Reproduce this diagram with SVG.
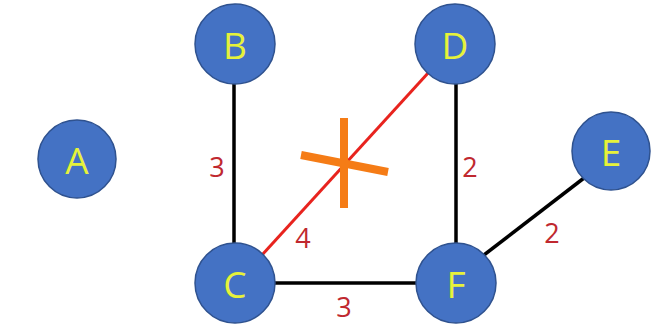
<svg xmlns="http://www.w3.org/2000/svg" width="666" height="325" viewBox="0 0 666 325">
<style>
.node circle{fill:#4472c4;stroke:#2f528f;stroke-width:1.5}
.node text{fill:#e6f23a;font-family:"Open Sans","Liberation Sans",sans-serif;font-size:37px;font-weight:500;text-anchor:middle;dominant-baseline:central}
.e{stroke:#000;stroke-width:3.5;fill:none}
.lbl{fill:#c0282f;font-family:"Open Sans","Liberation Sans",sans-serif;font-size:27px;text-anchor:middle;dominant-baseline:central}
</style>
<rect width="666" height="325" fill="#fff"/>
<g id="connectors">
<line class="e" x1="234" y1="84" x2="234" y2="243"/>
<line class="e" x1="274" y1="283" x2="416" y2="283"/>
<line class="e" x1="456" y1="84" x2="456" y2="243"/>
<line class="e" x1="484" y1="255" x2="584" y2="178"/>
<line x1="262" y1="255" x2="429" y2="72" stroke="#e8231e" stroke-width="3"/>
<g id="cross" stroke="#f57c16" stroke-width="8">
<line x1="344" y1="118" x2="344" y2="208"/>
<line x1="301" y1="155" x2="388" y2="172"/>
</g>
<text class="lbl" x="217" y="166">3</text>
<text class="lbl" x="303" y="237">4</text>
<text class="lbl" x="344" y="306">3</text>
<text class="lbl" x="470" y="166">2</text>
<text class="lbl" x="552" y="232">2</text>
</g>
<g id="A" class="node"><circle cx="77" cy="159" r="39"/><text x="77" y="159">A</text></g>
<g id="B" class="node"><circle cx="235" cy="44" r="40"/><text x="235" y="44">B</text></g>
<g id="D" class="node"><circle cx="455" cy="44" r="40"/><text x="455" y="44">D</text></g>
<g id="E" class="node"><circle cx="611" cy="151" r="39"/><text x="611" y="151">E</text></g>
<g id="C" class="node"><circle cx="235" cy="283" r="40"/><text x="235" y="283">C</text></g>
<g id="F" class="node"><circle cx="456" cy="283" r="40"/><text x="456" y="283">F</text></g>
</svg>
